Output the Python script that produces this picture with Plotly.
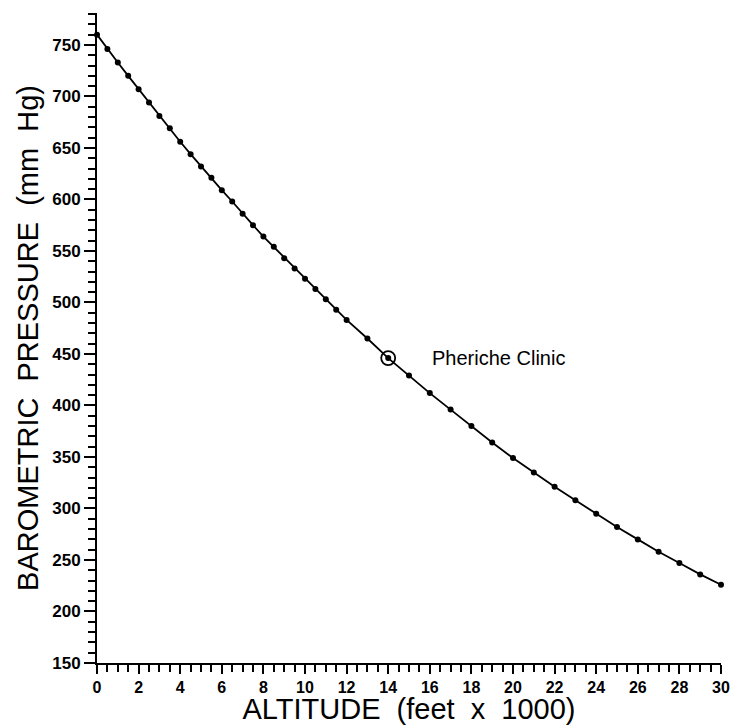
import plotly.graph_objects as go

# Altitude (feet x 1000) and barometric pressure (mm Hg)
altitude = [0, 0.5, 1, 1.5, 2, 2.5, 3, 3.5, 4, 4.5, 5, 5.5, 6, 6.5, 7, 7.5, 8, 8.5,
            9, 9.5, 10, 10.5, 11, 11.5, 12, 13, 14, 15, 16, 17, 18, 19, 20, 21,
            22, 23, 24, 25, 26, 27, 28, 29, 30]
pressure = [760, 746, 733, 720, 707, 694, 681, 669, 656, 644, 632, 621, 609, 598,
            586, 575, 564, 554, 543, 533, 523, 513, 503, 493, 483, 465, 446, 429,
            412, 396, 380, 364, 349, 335, 321, 308, 295, 282, 270, 258, 247, 236, 226]

clinic_altitude = [14]
clinic_pressure = [446]
clinic_label = "Pheriche Clinic"

x_tickvals = list(range(0, 31, 2))
y_tickvals = list(range(150, 751, 50))

fig = go.Figure()
fig.add_trace(go.Scatter(
    x=altitude, y=pressure, mode="lines+markers",
    line=dict(color="black", width=1.8),
    marker=dict(color="black", size=6, symbol="circle"),
    cliponaxis=False, showlegend=False,
))
fig.add_trace(go.Scatter(
    x=clinic_altitude, y=clinic_pressure, mode="markers",
    marker=dict(symbol="circle-open", size=14, color="black", line=dict(width=1.8)),
    cliponaxis=False, showlegend=False,
))
fig.add_annotation(
    x=clinic_altitude[0] + 2.0, y=clinic_pressure[0], text=clinic_label,
    showarrow=False, xanchor="left", yanchor="middle",
    font=dict(family="Liberation Sans, Arial", size=20, color="black"),
)

fig.update_layout(
    width=732, height=725,
    margin=dict(l=97, r=11, t=13, b=62),
    paper_bgcolor="white", plot_bgcolor="white",
    font=dict(family="Liberation Sans, Arial", color="black"),
)
fig.update_xaxes(
    range=[0, 30], tickvals=x_tickvals, ticktext=[str(v) for v in x_tickvals],
    automargin=False,
    showgrid=False, zeroline=False, showline=True, linecolor="black", linewidth=2,
    ticks="outside", ticklen=9, tickwidth=2, tickcolor="black",
    minor=dict(dtick=0.5, ticks="outside", ticklen=7, tickwidth=2, tickcolor="black", showgrid=False),
    tickfont=dict(family="Liberation Sans, Arial", size=16, color="black", weight="bold"),
    title=dict(text="ALTITUDE  (feet  x  1000)", standoff=1,
               font=dict(family="Liberation Sans, Arial", size=29, color="black")),
)
fig.update_yaxes(
    range=[150, 781], tickvals=y_tickvals, ticktext=[str(v) for v in y_tickvals],
    automargin=False,
    showgrid=False, zeroline=False, showline=True, linecolor="black", linewidth=2,
    ticks="outside", ticklen=11, tickwidth=2, tickcolor="black",
    minor=dict(dtick=10, tick0=150, ticks="outside", ticklen=7, tickwidth=2, tickcolor="black", showgrid=False),
    tickfont=dict(family="Liberation Sans, Arial", size=17, color="black", weight="bold"),
    title=dict(text="BAROMETRIC  PRESSURE  (mm  Hg)", standoff=5,
               font=dict(family="Liberation Sans, Arial", size=29, color="black")),
)

fig.write_html("out.html", config={"displayModeBar": False},
               post_script="document.body.style.margin='0';document.body.style.overflow='hidden';")
